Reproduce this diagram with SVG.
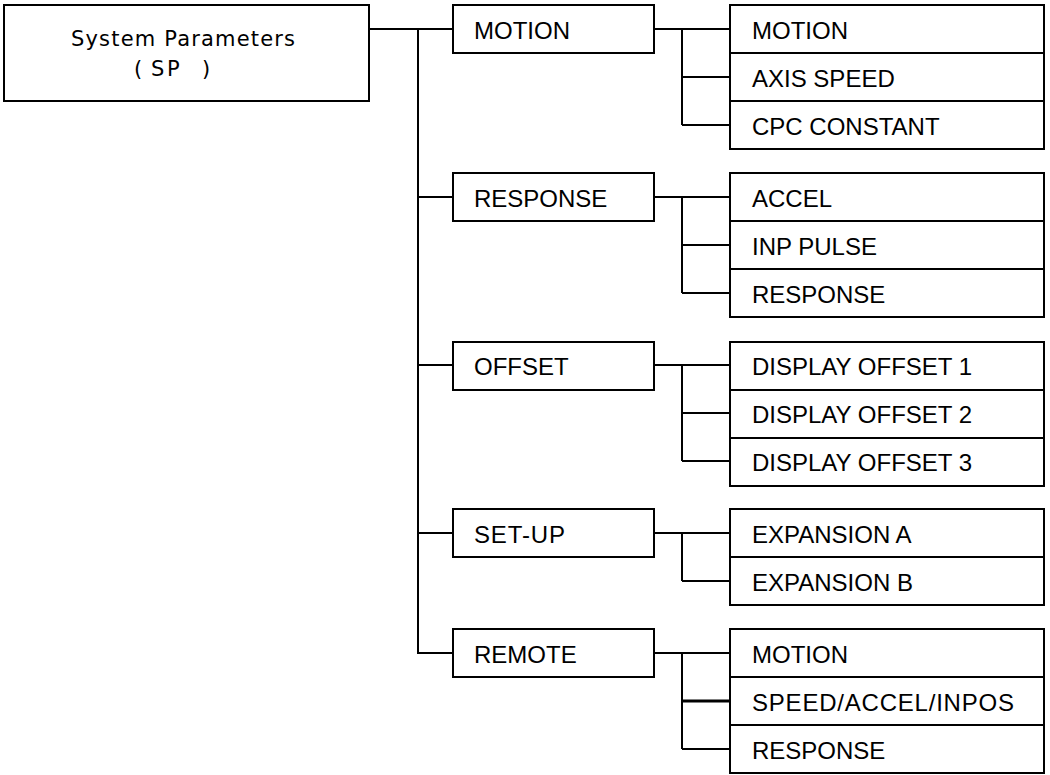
<svg xmlns="http://www.w3.org/2000/svg" width="1050" height="775" viewBox="0 0 1050 775">
<style>
.box{fill:#fff;stroke:#000;stroke-width:2}
.ln{fill:none;stroke:#000;stroke-width:2}
.t{font-family:"Liberation Sans","Noto Sans CJK JP",Arial,sans-serif;font-size:24px;fill:#000}
.r{font-family:"DejaVu Sans","Liberation Sans",sans-serif;font-size:21px;fill:#000}
</style>
<rect width="1050" height="775" fill="#fff"/>
<g id="connectors">
<path class="ln" d="M369,29H453M418,29V653H453M418,197H453M418,365H453M418,533H453"/>
<path class="ln" d="M654,29H730M682,29V125M682,77H730M682,125H730"/>
<path class="ln" d="M654,197H730M682,197V293M682,245H730M682,293H730"/>
<path class="ln" d="M654,365H730M682,365V461M682,413H730M682,461H730"/>
<path class="ln" d="M654,533H730M682,533V581M682,581H730"/>
<path class="ln" d="M654,653H730M682,653V749M682,749H730"/>
<path class="ln" style="stroke-width:3" d="M682,701H730"/>
</g>
<g id="root">
<rect class="box" x="4" y="5" width="365" height="96"/>
<text class="r" x="71" y="45.5" textLength="224" lengthAdjust="spacing">System Parameters</text>
<text class="r" x="134 151 167 202" y="76">(SP)</text>
</g>
<g id="motion">
<rect class="box" x="453" y="5" width="201" height="48"/>
<text class="t" x="474" y="39">MOTION</text>
</g>
<g id="motion-items">
<rect class="box" x="730" y="5" width="314" height="48"/>
<rect class="box" x="730" y="53" width="314" height="48"/>
<rect class="box" x="730" y="101" width="314" height="48"/>
<text class="t" x="752" y="39">MOTION</text>
<text class="t" x="752" y="87">AXIS SPEED</text>
<text class="t" x="752" y="135">CPC CONSTANT</text>
</g>
<g id="response">
<rect class="box" x="453" y="173" width="201" height="48"/>
<text class="t" x="474" y="207">RESPONSE</text>
</g>
<g id="response-items">
<rect class="box" x="730" y="173" width="314" height="48"/>
<rect class="box" x="730" y="221" width="314" height="48"/>
<rect class="box" x="730" y="269" width="314" height="48"/>
<text class="t" x="752" y="207">ACCEL</text>
<text class="t" x="752" y="255">INP PULSE</text>
<text class="t" x="752" y="303">RESPONSE</text>
</g>
<g id="offset">
<rect class="box" x="453" y="342" width="201" height="48"/>
<text class="t" x="474" y="375">OFFSET</text>
</g>
<g id="offset-items">
<rect class="box" x="730" y="342" width="314" height="48"/>
<rect class="box" x="730" y="390" width="314" height="48"/>
<rect class="box" x="730" y="438" width="314" height="48"/>
<text class="t" x="752" y="375">DISPLAY OFFSET 1</text>
<text class="t" x="752" y="423">DISPLAY OFFSET 2</text>
<text class="t" x="752" y="471">DISPLAY OFFSET 3</text>
</g>
<g id="setup">
<rect class="box" x="453" y="509" width="201" height="48"/>
<text class="t" x="474" y="543" textLength="91" lengthAdjust="spacing">SET-UP</text>
</g>
<g id="setup-items">
<rect class="box" x="730" y="509" width="314" height="48"/>
<rect class="box" x="730" y="557" width="314" height="48"/>
<text class="t" x="752" y="543">EXPANSION A</text>
<text class="t" x="752" y="591">EXPANSION B</text>
</g>
<g id="remote">
<rect class="box" x="453" y="629" width="201" height="48"/>
<text class="t" x="474" y="663">REMOTE</text>
</g>
<g id="remote-items">
<rect class="box" x="730" y="629" width="314" height="48"/>
<rect class="box" x="730" y="677" width="314" height="48"/>
<rect class="box" x="730" y="725" width="314" height="48"/>
<text class="t" x="752" y="663">MOTION</text>
<text class="t" x="752" y="711" textLength="262" lengthAdjust="spacing">SPEED/ACCEL/INPOS</text>
<text class="t" x="752" y="759">RESPONSE</text>
</g>
</svg>
